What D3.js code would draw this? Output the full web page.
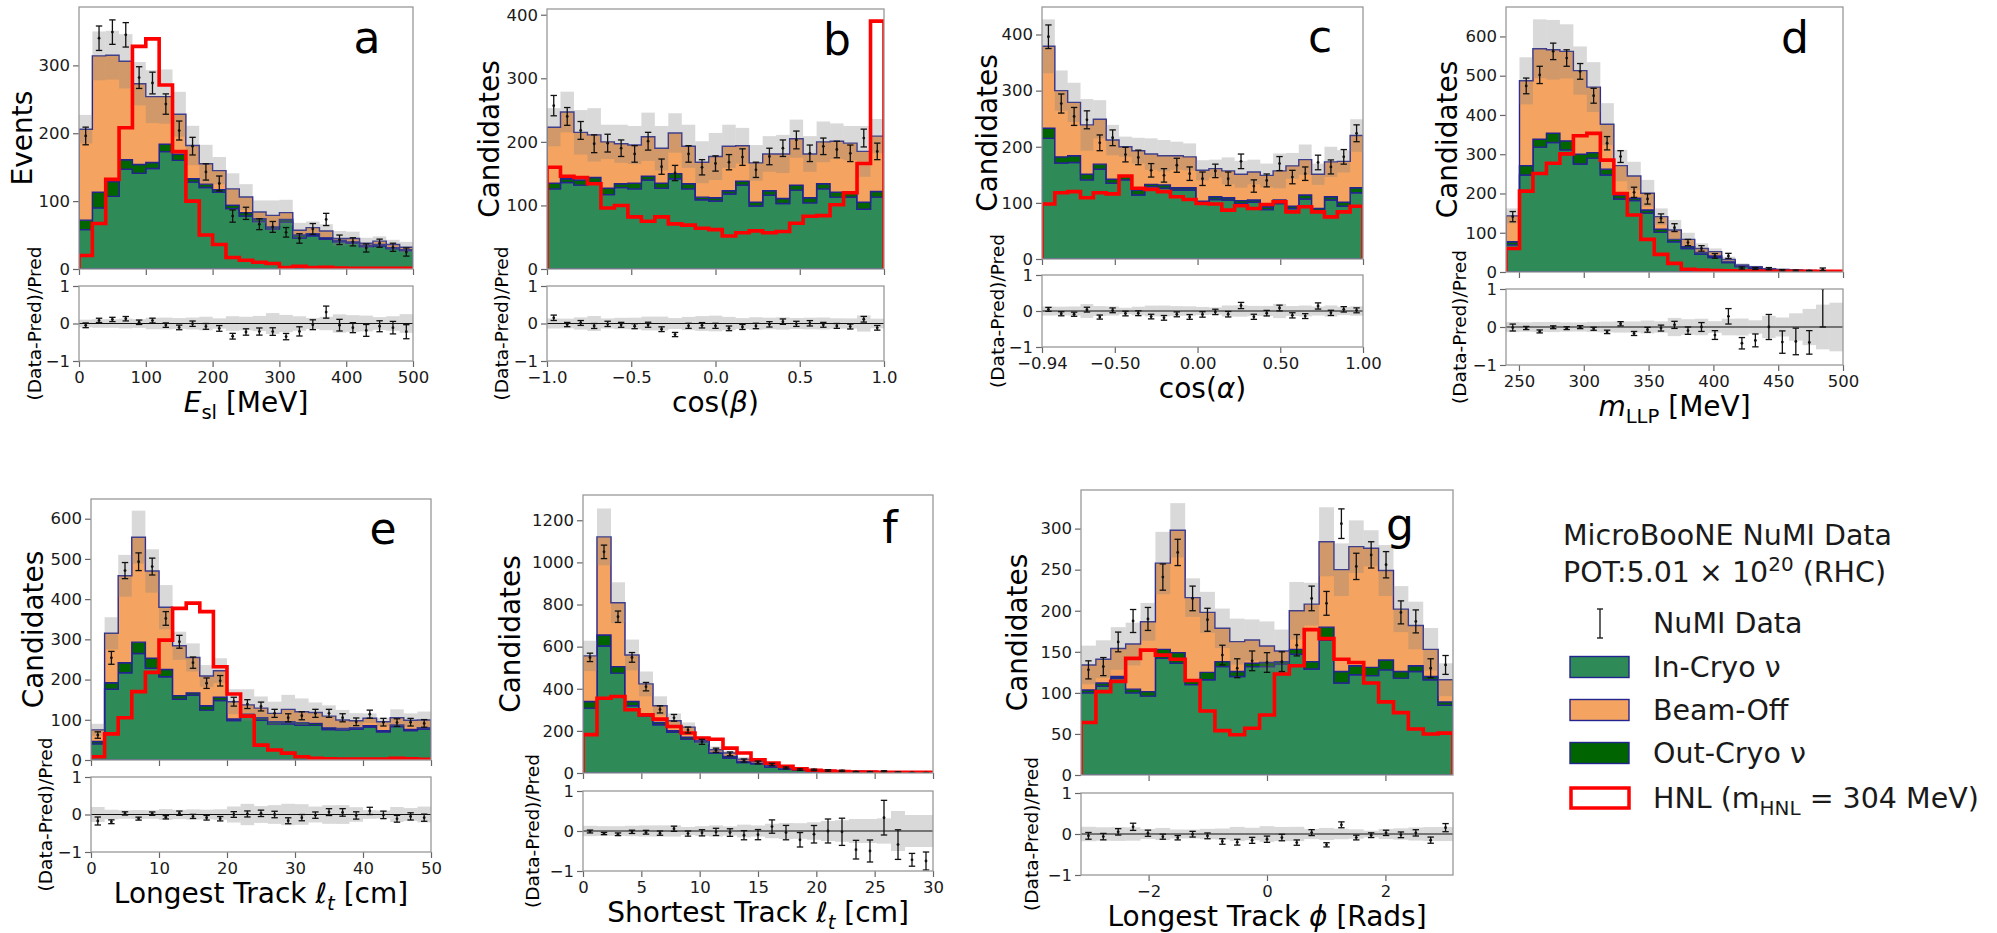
<!DOCTYPE html>
<html>
<head>
<meta charset="utf-8">
<script src="https://cdn.jsdelivr.net/npm/d3@7"></script>
<style>
  body { margin: 0; background: #fff; }
  svg { font-family: "DejaVu Sans", sans-serif; }
</style>
</head>
<body>
<svg id="fig" width="1997" height="933"></svg>
<script>
// ---- panel a : E_sl [MeV], 25 bins 0..500
const aInCryo  = [58, 90, 107, 147, 141, 148, 173, 160, 128, 120, 113, 89, 78, 70, 59, 69, 46, 49, 44, 40, 38, 33, 34, 30, 27];
const aOutCryo = [14, 23, 22, 14, 13, 9, 11, 9, 5, 5, 4, 5, 5, 4, 3, 4, 4, 3, 2, 2, 2, 2, 2, 1.5, 1.5];
const aBeamOff = [134, 201, 186, 145, 119, 97, 70, 59, 49, 30, 28, 24, 23, 10, 17, 10, 7, 9, 10, 3, 5, 3, 5, 4.5, 3.5];
const aSyst    = [21, 36, 36, 40, 32, 39, 40, 33, 29, 28, 20, 23, 19, 17, 22, 19, 11, 9, 10, 11, 10, 8, 7, 7, 8];
const aData    = [196, 340, 349, 345, 282, 274, 243, 204, 181, 143, 126, 78, 82, 66, 62, 54, 45, 59, 73, 43, 40, 31, 38, 32, 25];
const aDataErr = [13, 18, 18, 18, 16, 16, 15, 14, 13, 12, 11, 9, 9, 8, 8, 7, 7, 8, 9, 7, 6, 6, 6, 6, 6];
const aHnl     = [20, 67, 132, 208, 328, 339, 271, 173, 100, 50, 36, 17, 13, 10, 8, 2, 4, 2, 2.5, 1.5, 1, 1, 1, 1, 1];

// ---- panel b : cos(beta), 25 bins -1..1
const bInCryo  = [126, 136, 132, 136, 117, 128, 126, 140, 127, 142, 126, 109, 107, 118, 132, 99, 116, 103, 124, 104, 126, 113, 113, 94, 113];
const bOutCryo = [9, 6, 8, 8, 10, 6, 9, 6, 8, 8, 8, 4, 5, 5, 6, 6, 7, 8, 8, 8, 8, 8, 8, 11, 9];
const bBeamOff = [88, 105, 75, 67, 73, 63, 60, 62, 55, 64, 59, 55, 65, 70, 56, 62, 58, 70, 73, 69, 66, 80, 77, 80, 87];
const bSyst    = [30, 32, 35, 42, 27, 30, 30, 38, 35, 31, 34, 33, 37, 34, 28, 28, 28, 30, 30, 28, 32, 28, 27, 40, 27];
const bData    = [257, 240, 218, 197, 198, 190, 181, 201, 161, 151, 181, 160, 166, 168, 176, 156, 177, 190, 203, 182, 193, 188, 182, 206, 185];
const bDataErr = [16, 14, 14, 14, 14, 13, 13, 14, 12, 12, 13, 12, 12, 12, 13, 12, 13, 13, 14, 13, 13, 13, 13, 14, 13];
const bHnl     = [160, 146, 144, 134, 96, 100, 82, 75, 82, 71, 69, 64, 62, 52, 57, 60, 57, 59, 72, 83, 84, 101, 120, 166, 390];

// ---- panel c : cos(alpha), 25 bins -0.94..1
const cInCryo  = [215, 171, 172, 141, 160, 135, 141, 114, 129, 126, 123, 123, 100, 106, 105, 99, 101, 88, 99, 90, 107, 86, 105, 94, 118];
const cOutCryo = [18, 11, 12, 10, 9, 7, 7, 9, 4, 6, 4, 4, 3, 5, 4, 5, 4, 5, 6, 4, 7, 4, 6, 7, 9];
const cBeamOff = [146, 118, 95, 88, 80, 70, 52, 70, 54, 52, 57, 55, 55, 50, 48, 47, 50, 56, 52, 72, 63, 61, 62, 73, 93];
const cSyst    = [48, 36, 35, 46, 34, 27, 18, 23, 28, 28, 25, 24, 18, 16, 24, 24, 22, 21, 31, 23, 27, 19, 27, 20, 29];
const cData    = [396, 277, 254, 248, 207, 216, 186, 181, 158, 149, 167, 152, 143, 157, 143, 174, 130, 140, 170, 146, 152, 172, 164, 182, 224];
const cDataErr = [21, 17, 16, 16, 14, 14, 13, 13, 12, 12, 12.5, 12, 12, 12, 12, 13, 11, 11.5, 12.5, 12, 12, 13, 12.5, 13, 15];
const cHnl     = [98, 118, 120, 109, 118, 116, 148, 126, 124, 120, 111, 106, 99, 98, 87, 95, 90, 97, 102, 84, 93, 84, 75, 84, 94];

// ---- panel d : m_LLP [MeV], 25 bins 240..500
const dInCryo  = [69, 247, 318, 330, 311, 275, 290, 247, 186, 182, 150, 101, 77, 60, 46, 37, 24, 13.6, 9.3, 6, 4.5, 3.5, 3, 2.5, 1.8];
const dOutCryo = [8, 24, 20, 23.5, 23, 25, 14, 15, 9.5, 6, 8, 8, 6, 4.6, 4, 3.8, 2, 1.4, 1.7, 0.8, 0.5, 0.5, 0.5, 0.5, 0.2];
const dBeamOff = [66, 216, 230.5, 212.5, 228, 213, 167, 114.5, 75.5, 56.7, 42.6, 32, 24, 18.4, 10, 11.2, 6, 3, 2.6, 1.7, 1.8, 1, 0.7, 0.4, 0.5];
const dSyst    = [19, 60, 75, 76, 69, 61.5, 63.5, 53.5, 40, 36, 34, 21, 25.6, 17, 13, 8, 7, 4, 2.4, 2.5, 1.7, 1.8, 2, 2, 1.6];
const dData    = [141, 474, 502, 562, 545, 511, 449, 328, 294, 203, 186, 137, 113, 75, 60, 41, 41, 10.3, 8.8, 8.5, 4.1, 3.1, 2.5, 6.8, null];
const dDataErr = [13, 20, 22, 21, 21, 20, 19, 17, 15, 13, 13, 11, 10, 8, 7, 6, 6.5, 2.7, 2.3, 2.8, 2, 1.75, 1.3, 3.4, 0];
const dHnl     = [60, 206, 251, 277, 301, 347, 353, 285, 200, 145, 83, 45, 22, 7, 5, 3.5, 3, 2.5, 2.5, 2, 2, 2, 2, 2, 2];

// ---- panel e : longest track length [cm], 25 bins 0..50
const eInCryo  = [40, 176, 217, 265, 228, 207, 151, 161, 124, 148, 98, 110, 99, 89, 90, 87, 86, 76, 75, 77, 82, 70, 83, 73, 77];
const eOutCryo = [6, 16, 25, 28, 25, 18, 9, 6, 11, 8, 4, 4, 6, 6, 5, 6, 5, 4, 3.5, 3.5, 3, 3, 4, 3, 3.5];
const eBeamOff = [29, 123, 216, 261, 217, 155, 124, 88, 74, 66, 43, 23, 24, 21, 31, 27, 27, 29, 21, 17, 19, 22, 18, 23, 19];
const eSyst    = [15, 40, 52, 66, 54, 55, 35, 35, 27, 31, 31, 39, 29, 29, 36, 33, 25, 27, 25, 19, 12, 10, 21, 17, 21];
const eData    = [62, 254, 471, 493, 481, 352, 294, 242, 191, 197, 145, 139, 133, 116, 105, 110, 116, 116, 105, 95, 114, 94, 93, 94, 91];
const eDataErr = [8, 16, 20, 22, 21, 17, 16, 14, 13, 13, 11, 11, 11, 10, 10, 10, 10, 10, 10, 9.5, 10, 9.5, 9.5, 9.5, 9.5];
const eHnl     = [8, 65, 105, 170, 218, 298, 377, 390, 369, 232, 164, 109, 37, 25, 17, 8, 4, 3, 2.5, 2.5, 2.5, 2.5, 4, 3, 2];

// ---- panel f : shortest track length [cm], 25 bins 0..30
const fInCryo  = [308, 603, 474, 319, 272, 229, 193, 161, 148, 95, 71, 50, 44, 28, 17, 12.6, 12, 9.5, 7.5, 6.6, 5.7, 4.7, 3.8, 3.8, 2.8];
const fOutCryo = [31.5, 52, 31, 20.5, 7.5, 11, 7.5, 9.5, 4, 3, 8, 5, 3, 3.6, 3.5, 3.2, 1, 0.5, 0.5, 0.4, 0.3, 0.3, 0.2, 0.2, 0.2];
const fBeamOff = [216.5, 466, 303.5, 221, 143.5, 79, 47.5, 47.5, 3, 12.5, 15.7, 11, 8, 4.4, 4.5, 4.7, 3, 2, 2, 2, 2, 1, 1, 1, 1];
const fSyst    = [72, 135, 97, 73, 59, 45, 35, 22, 19, 15.5, 11, 10.5, 7.7, 6.5, 5, 4, 3.5, 3, 2.7, 2.7, 2.4, 1.9, 2.5, 2, 1.6];
const fData    = [549, 1050, 742, 549, 410, 302, 262, 204, 148, 108, 91, 59, 50, 40, 24, 16, 14.7, 12, 9.8, 4.8, 4, 8, 3.3, 1.4, 1];
const fDataErr = [20, 32, 27, 23, 20, 17, 16, 14, 12, 10, 9, 7.5, 7, 6, 4.5, 3.7, 3.5, 3.6, 3.4, 2.1, 2.2, 2.6, 1.85, 0.8, 0.9];
const fHnl     = [182, 355, 363, 300, 276, 256, 221, 190, 166, 160, 118, 95, 63, 47, 32, 20, 13, 9, 7, 5, 4, 3.5, 3, 3, 3];

// ---- panel g : longest track phi [rad], 25 bins -pi..pi
const gInCryo  = [100, 108, 118, 100, 96, 142, 136, 110, 116, 132, 120, 132, 132, 135, 147, 129, 164, 112, 122, 121, 128, 118, 126, 116, 85];
const gOutCryo = [3.5, 4, 2, 4.5, 5.5, 11, 13, 6, 9, 6, 6, 4, 5, 3, 6, 9, 16, 14, 11, 10, 12, 8, 7, 4, 4];
const gBeamOff = [30.5, 29, 34, 55, 85, 105, 149, 100, 73, 40.6, 36.4, 28.4, 20, 13, 47, 70, 104, 124, 145, 145, 109, 76, 49, 33, 27];
const gSyst    = [23.5, 23, 26, 26, 23, 38, 33, 23.5, 25, 24, 28, 25, 30, 26, 35, 26, 42, 32, 32, 22, 31, 28, 29, 26, 20];
const gData    = [128, 132, 162, 187.5, 190, 241, 271, 215, 189, 146, 130, 139, 137, 138, 158, 215, 209, 306, 254, 268, 256, 198, 187, 130, 134];
const gDataErr = [11, 11, 12, 14, 14, 16, 16, 15, 14, 12, 11.5, 12, 12, 12, 13, 15, 14.5, 18, 16, 16, 16, 14, 14, 11.5, 11.5];
const gHnl     = [64, 101.5, 114, 142, 152, 146, 141, 115, 78, 54, 49, 57, 73, 123, 133, 177, 166, 141, 137, 112, 89, 76, 56, 50, 51];

const legendLabels = ["NuMI Data", "In-Cryo ν", "Beam-Off", "Out-Cryo ν"];

const colors = { inCryo: '#2e8b57', outCryo: '#006400', beamOff: '#f4a460' };
const edgeColor = '#24248f';
const hnlColor = '#ff0000';

const svg = d3.select('#fig');
const defs = svg.append('defs');

function rich(text, parts, fs) {
  let shift = 0;
  parts.forEach(pt => {
    const want = pt.sub ? 0.24 * fs : pt.sup ? -0.4 * fs : 0;
    text.append('tspan')
      .text(pt.t)
      .attr('dy', want - shift)
      .attr('font-size', (pt.sub || pt.sup) ? fs * 0.7 : fs)
      .attr('font-style', pt.i ? 'italic' : 'normal');
    shift = want;
  });
}

function styleAxis(sel) {
  sel.attr('font-family', '"DejaVu Sans", sans-serif').attr('font-size', 16.5);
  sel.select('.domain').remove();
  sel.selectAll('.tick line').attr('stroke', '#666').attr('stroke-width', 1.2);
  sel.selectAll('.tick text').attr('fill', '#1a1a1a');
}

function drawPanel(p) {
  const n = p.inCryo.length;
  const edges = d3.range(n + 1).map(i => p.lo + i * (p.hi - p.lo) / n);
  const mid = i => (edges[i] + edges[i + 1]) / 2;

  const x = d3.scaleLinear().domain([p.lo, p.hi]).range([p.left, p.right]);
  const y = d3.scaleLinear().domain([0, p.yMax]).range([p.mainBot, p.mainTop]);
  const yr = d3.scaleLinear().domain([-1, 1]).range([p.ratioBot, p.ratioTop]);

  const rows = p.inCryo.map((v, i) => ({ inCryo: v, outCryo: p.outCryo[i], beamOff: p.beamOff[i] }));
  const stacked = d3.stack().keys(['inCryo', 'outCryo', 'beamOff'])(rows);
  const total = stacked[2].map(d => d[1]);

  // clip paths
  defs.append('clipPath').attr('id', 'main-' + p.id).append('rect')
    .attr('x', p.left).attr('y', p.mainTop)
    .attr('width', p.right - p.left).attr('height', p.mainBot - p.mainTop);
  defs.append('clipPath').attr('id', 'ratio-' + p.id).append('rect')
    .attr('x', p.left).attr('y', p.ratioTop)
    .attr('width', p.right - p.left).attr('height', p.ratioBot - p.ratioTop);

  // ---- main plot
  const g = svg.append('g').attr('clip-path', `url(#main-${p.id})`);

  const area = d3.area()
    .curve(d3.curveStepAfter)
    .x((d, i) => x(edges[i]))
    .y0(d => y(d[0]))
    .y1(d => y(d[1]));

  stacked.forEach(layer => {
    const pts = Array.from(layer).concat([layer[n - 1]]);
    g.append('path')
      .attr('d', area(pts))
      .attr('fill', colors[layer.key])
      .attr('stroke', edgeColor)
      .attr('stroke-width', 1.4);
  });

  g.selectAll('rect.band').data(total).join('rect')
    .attr('class', 'band')
    .attr('x', (d, i) => x(edges[i]))
    .attr('width', (d, i) => x(edges[i + 1]) - x(edges[i]))
    .attr('y', (d, i) => y(d + p.syst[i]))
    .attr('height', (d, i) => y(d - p.syst[i]) - y(d + p.syst[i]))
    .attr('fill', '#808080')
    .attr('fill-opacity', 0.3);

  const hnlPts = [[edges[0], 0]]
    .concat(p.hnl.map((v, i) => [edges[i], v]))
    .concat([[edges[n], p.hnl[n - 1]], [edges[n], 0]]);
  g.append('path')
    .attr('d', d3.line().curve(d3.curveStepAfter).x(d => x(d[0])).y(d => y(d[1]))(hnlPts))
    .attr('fill', 'none')
    .attr('stroke', hnlColor)
    .attr('stroke-width', 3.6);

  const dataPts = p.data.map((v, i) => ({ v, e: p.dataErr[i], xc: mid(i), t: total[i], s: p.syst[i] }))
    .filter(d => d.v != null);

  const bars = g.selectAll('g.pt').data(dataPts).join('g').attr('class', 'pt');
  bars.append('line')
    .attr('x1', d => x(d.xc)).attr('x2', d => x(d.xc))
    .attr('y1', d => y(d.v - d.e)).attr('y2', d => y(d.v + d.e));
  bars.append('line')
    .attr('x1', d => x(d.xc) - 3.2).attr('x2', d => x(d.xc) + 3.2)
    .attr('y1', d => y(d.v - d.e)).attr('y2', d => y(d.v - d.e));
  bars.append('line')
    .attr('x1', d => x(d.xc) - 3.2).attr('x2', d => x(d.xc) + 3.2)
    .attr('y1', d => y(d.v + d.e)).attr('y2', d => y(d.v + d.e));
  bars.selectAll('line').attr('stroke', '#111').attr('stroke-width', 1.3);
  bars.append('circle')
    .attr('cx', d => x(d.xc)).attr('cy', d => y(d.v)).attr('r', 1.4).attr('fill', '#111');

  // ---- ratio plot
  const r = svg.append('g').attr('clip-path', `url(#ratio-${p.id})`);
  r.selectAll('rect.band').data(total).join('rect')
    .attr('class', 'band')
    .attr('x', (d, i) => x(edges[i]))
    .attr('width', (d, i) => x(edges[i + 1]) - x(edges[i]))
    .attr('y', (d, i) => yr(p.syst[i] / d))
    .attr('height', (d, i) => yr(-p.syst[i] / d) - yr(p.syst[i] / d))
    .attr('fill', '#808080')
    .attr('fill-opacity', 0.3);
  r.append('line')
    .attr('x1', p.left).attr('x2', p.right)
    .attr('y1', yr(0)).attr('y2', yr(0))
    .attr('stroke', '#111').attr('stroke-width', 1.2);

  const rb = r.selectAll('g.rpt').data(dataPts).join('g').attr('class', 'rpt');
  const rv = d => (d.v - d.t) / d.t;
  const re = d => d.e / d.t;
  rb.append('line')
    .attr('x1', d => x(d.xc)).attr('x2', d => x(d.xc))
    .attr('y1', d => yr(rv(d) - re(d))).attr('y2', d => yr(rv(d) + re(d)));
  rb.append('line')
    .attr('x1', d => x(d.xc) - 3.2).attr('x2', d => x(d.xc) + 3.2)
    .attr('y1', d => yr(rv(d) - re(d))).attr('y2', d => yr(rv(d) - re(d)));
  rb.append('line')
    .attr('x1', d => x(d.xc) - 3.2).attr('x2', d => x(d.xc) + 3.2)
    .attr('y1', d => yr(rv(d) + re(d))).attr('y2', d => yr(rv(d) + re(d)));
  rb.selectAll('line').attr('stroke', '#111').attr('stroke-width', 1.3);
  rb.append('circle')
    .attr('cx', d => x(d.xc)).attr('cy', d => yr(rv(d))).attr('r', 1.4).attr('fill', '#111');

  // ---- axes
  svg.append('g').attr('transform', `translate(${p.left},0)`)
    .call(d3.axisLeft(y).tickValues(p.yTicks).tickSize(6).tickPadding(3).tickFormat(d3.format('d')))
    .call(styleAxis);
  svg.append('g').attr('transform', `translate(0,${p.mainBot})`)
    .call(d3.axisBottom(x).tickValues(p.xTicks).tickSize(6).tickFormat(''))
    .call(styleAxis);
  svg.append('g').attr('transform', `translate(${p.left},0)`)
    .call(d3.axisLeft(yr).tickValues([-1, 0, 1]).tickSize(6).tickPadding(3).tickFormat(d3.format('d')))
    .call(styleAxis);
  svg.append('g').attr('transform', `translate(0,${p.ratioBot})`)
    .call(d3.axisBottom(x).tickValues(p.xTicks).tickSize(6).tickPadding(4).tickFormat(p.fmt))
    .call(styleAxis);

  // frames
  [[p.mainTop, p.mainBot], [p.ratioTop, p.ratioBot]].forEach(([t, b]) => {
    svg.append('rect')
      .attr('x', p.left).attr('y', t)
      .attr('width', p.right - p.left).attr('height', b - t)
      .attr('fill', 'none').attr('stroke', '#999').attr('stroke-width', 1.3);
  });

  // labels
  svg.append('text')
    .attr('x', p.letterX).attr('y', p.letterY)
    .attr('text-anchor', 'middle').attr('font-size', 44).attr('fill', '#000')
    .text(p.id);

  svg.append('text')
    .attr('transform', `translate(${p.yLabX},${(p.mainTop + p.mainBot) / 2}) rotate(-90)`)
    .attr('text-anchor', 'middle').attr('dominant-baseline', 'central')
    .attr('font-size', 28).attr('fill', '#000')
    .text(p.yLab);

  svg.append('text')
    .attr('transform', `translate(${p.rLabX},${(p.ratioTop + p.ratioBot) / 2}) rotate(-90)`)
    .attr('text-anchor', 'middle').attr('dominant-baseline', 'central')
    .attr('font-size', 18.5).attr('fill', '#000')
    .text('(Data-Pred)/Pred');

  const xl = svg.append('text')
    .attr('x', (p.left + p.right) / 2).attr('y', p.ratioBot + 51)
    .attr('text-anchor', 'middle').attr('fill', '#000');
  rich(xl, p.xLab, 28);
}

const panels = [
  { id: 'a', inCryo: aInCryo, outCryo: aOutCryo, beamOff: aBeamOff, syst: aSyst, data: aData, dataErr: aDataErr, hnl: aHnl,
    left: 79, right: 413, mainTop: 7, mainBot: 269, ratioTop: 286, ratioBot: 361,
    lo: 0, hi: 500, yMax: 386, yTicks: [0, 100, 200, 300], xTicks: [0, 100, 200, 300, 400, 500], fmt: d3.format('d'),
    letterX: 367, letterY: 53, yLab: 'Events', yLabX: 22, rLabX: 34,
    xLab: [{ t: 'E', i: 1 }, { t: 'sl', sub: 1 }, { t: ' [MeV]' }] },
  { id: 'b', inCryo: bInCryo, outCryo: bOutCryo, beamOff: bBeamOff, syst: bSyst, data: bData, dataErr: bDataErr, hnl: bHnl,
    left: 547, right: 884, mainTop: 9, mainBot: 269, ratioTop: 286, ratioBot: 361,
    lo: -1, hi: 1, yMax: 409, yTicks: [0, 100, 200, 300, 400], xTicks: [-1, -0.5, 0, 0.5, 1], fmt: d3.format('.1f'),
    letterX: 837, letterY: 55, yLab: 'Candidates', yLabX: 489, rLabX: 501,
    xLab: [{ t: 'cos(' }, { t: 'β', i: 1 }, { t: ')' }] },
  { id: 'c', inCryo: cInCryo, outCryo: cOutCryo, beamOff: cBeamOff, syst: cSyst, data: cData, dataErr: cDataErr, hnl: cHnl,
    left: 1042, right: 1363, mainTop: 7, mainBot: 259, ratioTop: 275, ratioBot: 347,
    lo: -0.94, hi: 1, yMax: 449, yTicks: [0, 100, 200, 300, 400], xTicks: [-0.94, -0.5, 0, 0.5, 1], fmt: d3.format('.2f'),
    letterX: 1320, letterY: 52, yLab: 'Candidates', yLabX: 987, rLabX: 997,
    xLab: [{ t: 'cos(' }, { t: 'α', i: 1 }, { t: ')' }] },
  { id: 'd', inCryo: dInCryo, outCryo: dOutCryo, beamOff: dBeamOff, syst: dSyst, data: dData, dataErr: dDataErr, hnl: dHnl,
    left: 1506, right: 1843, mainTop: 7, mainBot: 272, ratioTop: 289, ratioBot: 365,
    lo: 240, hi: 500, yMax: 675, yTicks: [0, 100, 200, 300, 400, 500, 600], xTicks: [250, 300, 350, 400, 450, 500], fmt: d3.format('d'),
    letterX: 1795, letterY: 53, yLab: 'Candidates', yLabX: 1447, rLabX: 1459,
    xLab: [{ t: 'm', i: 1 }, { t: 'LLP', sub: 1 }, { t: ' [MeV]' }] },
  { id: 'e', inCryo: eInCryo, outCryo: eOutCryo, beamOff: eBeamOff, syst: eSyst, data: eData, dataErr: eDataErr, hnl: eHnl,
    left: 91, right: 431, mainTop: 499, mainBot: 760, ratioTop: 777, ratioBot: 852,
    lo: 0, hi: 50, yMax: 649, yTicks: [0, 100, 200, 300, 400, 500, 600], xTicks: [0, 10, 20, 30, 40, 50], fmt: d3.format('d'),
    letterX: 383, letterY: 544, yLab: 'Candidates', yLabX: 33, rLabX: 45,
    xLab: [{ t: 'Longest Track ' }, { t: 'ℓ', i: 1 }, { t: 't', i: 1, sub: 1 }, { t: ' [cm]' }] },
  { id: 'f', inCryo: fInCryo, outCryo: fOutCryo, beamOff: fBeamOff, syst: fSyst, data: fData, dataErr: fDataErr, hnl: fHnl,
    left: 583, right: 933, mainTop: 495, mainBot: 773, ratioTop: 791, ratioBot: 871,
    lo: 0, hi: 30, yMax: 1320, yTicks: [0, 200, 400, 600, 800, 1000, 1200], xTicks: [0, 5, 10, 15, 20, 25, 30], fmt: d3.format('d'),
    letterX: 890, letterY: 543, yLab: 'Candidates', yLabX: 510, rLabX: 532,
    xLab: [{ t: 'Shortest Track ' }, { t: 'ℓ', i: 1 }, { t: 't', i: 1, sub: 1 }, { t: ' [cm]' }] },
  { id: 'g', inCryo: gInCryo, outCryo: gOutCryo, beamOff: gBeamOff, syst: gSyst, data: gData, dataErr: gDataErr, hnl: gHnl,
    left: 1081, right: 1453, mainTop: 490, mainBot: 775, ratioTop: 793, ratioBot: 875,
    lo: -Math.PI, hi: Math.PI, yMax: 347, yTicks: [0, 50, 100, 150, 200, 250, 300], xTicks: [-2, 0, 2], fmt: d3.format('d'),
    letterX: 1400, letterY: 540, yLab: 'Candidates', yLabX: 1017, rLabX: 1031,
    xLab: [{ t: 'Longest Track ' }, { t: 'ϕ', i: 1 }, { t: ' [Rads]' }] }
];

panels.forEach(drawPanel);

// ---- legend
const leg = svg.append('g').attr('fill', '#1a1a1a');
leg.append('text').attr('x', 1563).attr('y', 545).attr('font-size', 28.5).text('MicroBooNE NuMI Data');
rich(leg.append('text').attr('x', 1563).attr('y', 582),
  [{ t: 'POT:5.01 × 10' }, { t: '20', sup: 1 }, { t: ' (RHC)' }], 28.5);

const rowY = [623, 667, 710, 753, 798];
const ebar = leg.append('g').attr('stroke', '#222').attr('stroke-width', 1.4);
ebar.append('line').attr('x1', 1600).attr('x2', 1600).attr('y1', rowY[0] - 14).attr('y2', rowY[0] + 15);
ebar.append('line').attr('x1', 1597).attr('x2', 1603).attr('y1', rowY[0] - 14).attr('y2', rowY[0] - 14);
ebar.append('line').attr('x1', 1597).attr('x2', 1603).attr('y1', rowY[0] + 15).attr('y2', rowY[0] + 15);

[colors.inCryo, colors.beamOff, colors.outCryo].forEach((c, k) => {
  leg.append('rect')
    .attr('x', 1570).attr('y', rowY[k + 1] - 10.5).attr('width', 59).attr('height', 21)
    .attr('fill', c).attr('stroke', edgeColor).attr('stroke-width', 1.4);
});
leg.append('rect')
  .attr('x', 1571).attr('y', rowY[4] - 10).attr('width', 58).attr('height', 20)
  .attr('fill', '#fff').attr('stroke', hnlColor).attr('stroke-width', 3.5);

legendLabels.forEach((t, k) => {
  leg.append('text').attr('x', 1653).attr('y', rowY[k]).attr('dy', '0.36em')
    .attr('font-size', 28.5).text(t);
});
rich(leg.append('text').attr('x', 1653).attr('y', rowY[4] + 10),
  [{ t: 'HNL (m' }, { t: 'HNL', sub: 1 }, { t: ' = 304 MeV)' }], 28.5);
</script>
</body>
</html>
